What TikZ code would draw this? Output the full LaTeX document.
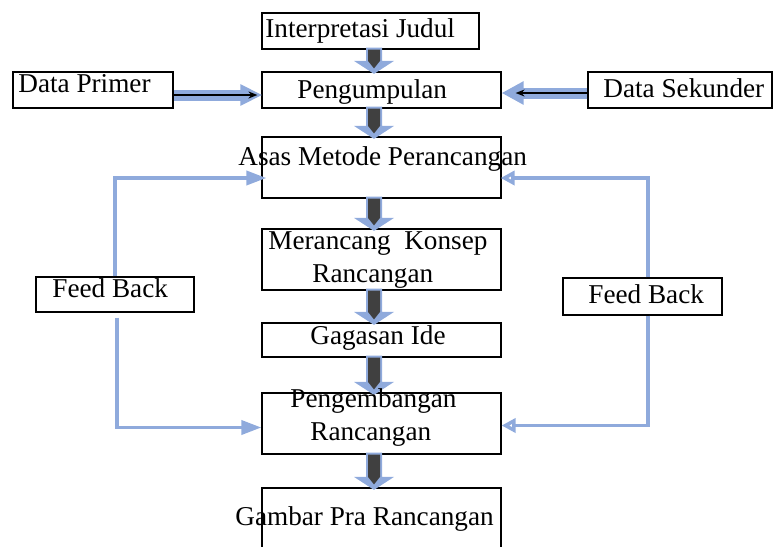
\documentclass[tikz,border=0pt]{standalone}
\usepackage{fontspec}
\setmainfont{Liberation Serif}
\usetikzlibrary{arrows.meta,calc}
\definecolor{garisbiru}{RGB}{143,170,220}
% panah blok ke bawah antara dua kotak
\newcommand{\panahblok}[2]{%
  \fill[garisbiru] let \p1=(#1.south), \p2=(#2.north) in
    (183pt,\y1+1pt) -- (191pt,\y1+1pt) -- (191pt,\y2+5.25pt) -- (197pt,\y2+5.25pt)
    -- (187pt,\y2-1.25pt) -- (177pt,\y2+5.25pt) -- (183pt,\y2+5.25pt) -- cycle;
  \shade[left color=black!75,middle color=black,right color=black!75] let \p1=(#1.south), \p2=(#2.north) in
    (184pt,\y1) -- (190pt,\y1) -- (190pt,\y2+5.25pt) -- (187pt,\y2+1.5pt) -- (184pt,\y2+5.25pt) -- cycle;
}
\begin{document}
\begin{tikzpicture}[x=0.5pt,y=-0.5pt,
    kotak/.style={draw,line width=0.6pt,inner sep=0pt},
    teks/.style={font=\fontsize{13.6}{16}\selectfont,inner sep=0pt,anchor=base west},
    umpanbalik/.style={draw=garisbiru,line width=1.8pt},
    pita/.style={draw=garisbiru,line width=5.5pt}]
    \useasboundingbox (0,0) rectangle (773,547);

    % kotak-kotak
    \node[kotak,minimum width=108.5pt,minimum height=18pt] (judul) at (370.5,31) {};
    \node[kotak,minimum width=119.5pt,minimum height=18pt] (kumpul) at (381.5,90) {};
    \node[kotak,minimum width=80pt,minimum height=18pt] (primer) at (93,90) {};
    \node[kotak,minimum width=92pt,minimum height=18pt] (sekunder) at (680,90) {};
    \node[kotak,minimum width=119.5pt,minimum height=30.5pt] (asas) at (381.5,167.5) {};
    \node[kotak,minimum width=119.5pt,minimum height=30.5pt] (konsep) at (381.5,259.5) {};
    \node[kotak,minimum width=119.5pt,minimum height=17pt] (ide) at (381.5,340) {};
    \node[kotak,minimum width=119.5pt,minimum height=30.5pt] (kembang) at (381.5,423.5) {};
    \node[kotak,minimum width=119.5pt,minimum height=32pt] (gambar) at (381.5,520) {};
    \node[kotak,minimum width=79pt,minimum height=17.5pt] (fbL) at (115,294.5) {};
    \node[kotak,minimum width=79.5pt,minimum height=18.5pt] (fbR) at (642.5,296.5) {};

    % data masuk
    \draw[pita,-{Triangle[length=11pt,width=10pt]}] ($(primer.east)+(0,5)$) -- ($(kumpul.west)+(1,5)$);
    \draw[line width=0.7pt,-{Stealth[length=4.5pt,width=3.5pt]}] ($(primer.east)+(0,5)$) -- ($(kumpul.west)+(-4,5)$);
    \draw[pita,-{Triangle[length=11pt,width=11pt]}] ($(sekunder.west)+(0,3)$) -- ($(kumpul.east)+(0,3)$);
    \draw[line width=0.7pt,-{Stealth[length=4.5pt,width=3.5pt]}] ($(sekunder.west)+(0,3)$) -- ($(kumpul.east)+(14,3)$);

    % alur utama
    \panahblok{judul}{kumpul}
    \panahblok{kumpul}{asas}
    \panahblok{asas}{konsep}
    \panahblok{konsep}{ide}
    \panahblok{ide}{kembang}
    \panahblok{kembang}{gambar}

    % feed back
    \draw[umpanbalik,-{Triangle[length=10pt,width=7pt]}] (fbL.north) |- ($(asas.west)+(5,10.5)$);
    \draw[umpanbalik,-{Triangle[length=10pt,width=7pt]}] ($(fbL.south)+(2,5)$) |- ($(kembang.west)+(0,4)$);
    \draw[umpanbalik,-{Triangle[open,length=7pt,width=7pt]}] ($(fbR.north)+(5.5,0)$) |- ($(asas.east)+(-1,10.5)$);
    \draw[umpanbalik,-{Triangle[open,length=7pt,width=7pt]}] ($(fbR.south)+(5.5,0)$) |- ($(kembang.east)+(0,2)$);

    % teks
    \node[teks] (tJudul) at (265,37) {Interpretasi Judul};
    \node[teks] (tPrimer) at (18,92) {Data Primer};
    \node[teks] (tKumpul) at (297,98) {Pengumpulan};
    \node[teks] (tSekunder) at (603,97) {Data Sekunder};
    \node[teks] (tAsas) at (238,165) {Asas Metode Perancangan};
    \node[teks] (tKonsep1) at (268,249) {Merancang\ \ Konsep};
    \node[teks] (tKonsep2) at (312,282) {Rancangan};
    \node[teks] (tFbL) at (52,297) {Feed Back};
    \node[teks] (tFbR) at (588,303) {Feed Back};
    \node[teks] (tIde) at (310,344) {Gagasan Ide};
    \node[teks] (tKembang1) at (290,407) {Pengembangan};
    \node[teks] (tKembang2) at (310,440) {Rancangan};
    \node[teks] (tGambar) at (235,525) {Gambar Pra Rancangan};
\end{tikzpicture}
\end{document}
